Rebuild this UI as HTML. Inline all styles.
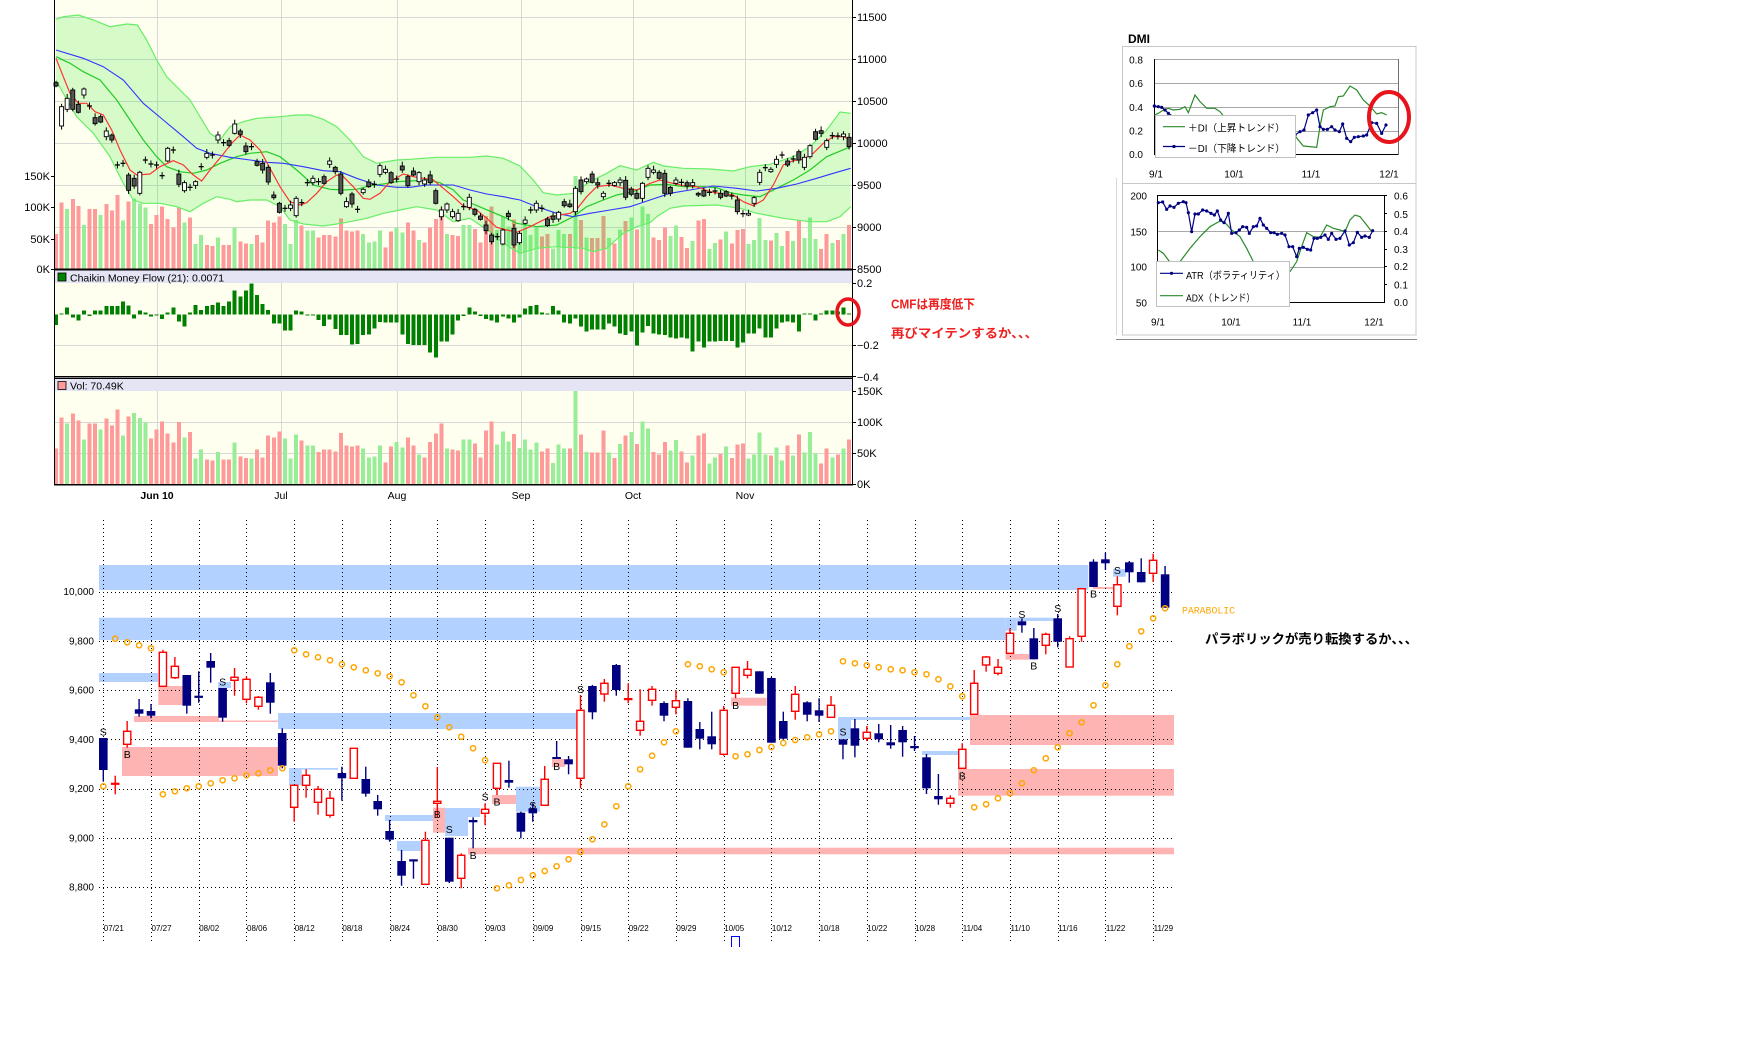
<!DOCTYPE html>
<html><head><meta charset="utf-8"><title>chart</title>
<style>
html,body{margin:0;padding:0;background:#fff;width:1748px;height:1052px;overflow:hidden}
svg{display:block}
text{font-family:"Liberation Sans","Noto Sans CJK JP",sans-serif}
.m{font-family:"Liberation Mono","Noto Sans CJK JP",monospace}
</style></head><body>
<svg id="s" width="1748" height="1052" viewBox="0 0 1748 1052" xmlns="http://www.w3.org/2000/svg">
<rect width="1748" height="1052" fill="#fff"/>
<!-- ============ TOP CHART ============ -->
<rect x="54" y="0" width="798" height="270" fill="#fffff0"/>
<rect x="54" y="270" width="798" height="107" fill="#fffff0"/>
<rect x="54" y="378" width="798" height="106" fill="#fffff0"/>
<g id="tgrid" stroke="#d8d8d8" stroke-width="1" shape-rendering="crispEdges"></g>
<g id="vol1" shape-rendering="crispEdges"></g>
<g id="band"></g>
<g id="tc"></g>
<g id="cmf" shape-rendering="crispEdges"></g>
<g id="vol2" shape-rendering="crispEdges"></g>
<rect x="54" y="270" width="798" height="13" fill="#e4e4f4"/>
<rect x="58" y="273" width="8" height="8" fill="#008000" stroke="#000" stroke-width="0.8"/>
<text x="70" y="281.5" font-size="10.5" fill="#000">Chaikin Money Flow (21): 0.0071</text>
<rect x="54" y="379" width="798" height="12" fill="#e4e4f4"/>
<rect x="58" y="381.5" width="8" height="8" fill="#ff9a9a" stroke="#000" stroke-width="0.8"/>
<text x="70" y="389.5" font-size="10.5" fill="#000">Vol: 70.49K</text>
<g stroke="#000" shape-rendering="crispEdges">
<line x1="54.5" y1="0" x2="54.5" y2="485" stroke-width="1"/>
<line x1="852.5" y1="0" x2="852.5" y2="485" stroke-width="1"/>
<line x1="54" y1="269.5" x2="853" y2="269.5" stroke-width="2"/>
<line x1="54" y1="376.5" x2="853" y2="376.5" stroke-width="1.5"/>
<line x1="54" y1="378.5" x2="853" y2="378.5" stroke-width="1"/>
<line x1="54" y1="484.5" x2="853" y2="484.5" stroke-width="1.5"/>
</g>
<g id="ticks" stroke="#000" stroke-width="1" shape-rendering="crispEdges"></g>
<g font-size="11" fill="#000">
<text x="857" y="21">11500</text>
<text x="857" y="63">11000</text>
<text x="857" y="105">10500</text>
<text x="857" y="147">10000</text>
<text x="857" y="189">9500</text>
<text x="857" y="231">9000</text>
<text x="857" y="273">8500</text>
<text x="857" y="287">0.2</text>
<text x="857" y="349">−0.2</text>
<text x="857" y="381">−0.4</text>
<text x="857" y="395">150K</text>
<text x="857" y="426">100K</text>
<text x="857" y="457">50K</text>
<text x="857" y="488">0K</text>
<text x="50" y="180" text-anchor="end">150K</text>
<text x="50" y="211" text-anchor="end">100K</text>
<text x="50" y="243" text-anchor="end">50K</text>
<text x="50" y="273" text-anchor="end">0K</text>
</g>
<g font-size="10.5" fill="#000" text-anchor="middle">
<text x="157" y="499" font-weight="bold">Jun 10</text>
<text x="281" y="499">Jul</text>
<text x="397" y="499">Aug</text>
<text x="521" y="499">Sep</text>
<text x="633" y="499">Oct</text>
<text x="745" y="499">Nov</text>
</g>
<ellipse cx="848" cy="312" rx="11" ry="13" fill="none" stroke="#e8141c" stroke-width="3.5"/>
<text x="891" y="308.5" font-size="12.5" font-weight="bold" fill="#ee2020" textLength="84" lengthAdjust="spacingAndGlyphs">CMFは再度低下</text>
<text x="891" y="337.5" font-size="12.5" font-weight="bold" fill="#ee2020" textLength="147" lengthAdjust="spacingAndGlyphs">再びマイテンするか、、、</text>

<!-- ============ DMI ============ -->
<rect x="1122.5" y="46.5" width="293.5" height="288.5" fill="#fff" stroke="#c8c8c8" stroke-width="1"/>
<line x1="1122.5" y1="183.5" x2="1416" y2="183.5" stroke="#c8c8c8"/>
<line x1="1116.5" y1="178" x2="1116.5" y2="335" stroke="#d8d8d8"/>
<line x1="1116" y1="339.5" x2="1417" y2="339.5" stroke="#8a8a8a"/>
<text x="1128" y="43" font-size="12" font-weight="bold" fill="#000">DMI</text>
<g stroke="#a8a8a8" shape-rendering="crispEdges">
<line x1="1154" y1="59.5" x2="1399" y2="59.5"/>
<line x1="1154" y1="83.5" x2="1399" y2="83.5"/>
<line x1="1154" y1="107.5" x2="1399" y2="107.5"/>
<line x1="1154" y1="131.5" x2="1399" y2="131.5"/>
<line x1="1157" y1="231.5" x2="1384" y2="231.5"/>
<line x1="1157" y1="267.5" x2="1384" y2="267.5"/>
</g>
<g stroke="#000" shape-rendering="crispEdges">
<line x1="1154.5" y1="59" x2="1154.5" y2="155"/>
<line x1="1154" y1="154.5" x2="1399" y2="154.5"/>
<line x1="1398.5" y1="59" x2="1398.5" y2="155" stroke="#707070"/>
<line x1="1157.5" y1="195" x2="1157.5" y2="303"/>
<line x1="1157" y1="195.5" x2="1384" y2="195.5"/>
<line x1="1157" y1="302.5" x2="1385" y2="302.5"/>
<line x1="1384.5" y1="195" x2="1384.5" y2="303"/>
<line x1="1384" y1="195.5" x2="1387" y2="195.5"/>
<line x1="1384" y1="213.5" x2="1387" y2="213.5"/>
<line x1="1384" y1="231.5" x2="1387" y2="231.5"/>
<line x1="1384" y1="249.5" x2="1387" y2="249.5"/>
<line x1="1384" y1="266.5" x2="1387" y2="266.5"/>
<line x1="1384" y1="284.5" x2="1387" y2="284.5"/>
</g>
<g transform="translate(1100,0) scale(0.333333)">
<polyline id="pdi" fill="none" stroke="#2b8a2b" stroke-width="3.6" points="163,345 175,340 190,330 205,325 220,330 240,328 255,320 265,338 285,285 300,305 320,325 345,325 360,335 380,360 420,380 480,390 540,385 575,395 595,420 610,438 650,442 660,380 670,330 690,320 705,318 715,290 730,288 750,258 770,270 790,300 810,318 830,342 845,338 860,345"/>
<polyline id="mdi" fill="none" stroke="#000080" stroke-width="3.6" points="163,318 175,320 185,322 195,330 205,340 220,350 300,370 400,390 500,400 560,405 585,405 600,395 612,390 625,345 638,338 650,330 660,380 670,388 682,388 695,380 705,390 718,395 728,372 740,415 752,425 763,412 775,410 790,408 800,405 815,368 830,370 845,400 858,375"/>
<polyline id="adx" fill="none" stroke="#2b8a2b" stroke-width="3.6" points="175,750 190,760 205,780 220,800 240,785 270,745 300,710 330,680 360,663 375,668 395,690 420,710 440,745 460,785 500,820 540,830 570,815 590,785 605,740 620,698 640,710 660,712 680,675 700,685 720,690 735,695 750,660 765,645 780,650 800,675 815,695"/>
<polyline id="atr" fill="none" stroke="#000080" stroke-width="3.6" points="175,608 188,606 200,628 210,618 222,622 235,610 250,605 258,608 265,638 275,695 285,642 295,642 308,630 320,633 333,640 343,645 352,633 362,660 372,668 385,640 395,700 408,698 418,690 428,680 440,682 448,700 460,680 470,678 480,655 490,675 500,685 512,698 522,698 532,703 545,700 555,705 567,740 578,740 590,770 598,745 610,742 622,748 632,750 642,715 652,715 662,712 675,705 685,718 695,700 708,718 720,715 735,693 748,735 760,728 772,697 785,712 795,708 808,712 818,692"/>
<g id="ddots" fill="#000080"></g>
</g>
<rect x="1155.5" y="115.5" width="140" height="42" fill="#fff" stroke="#c0c0c0"/>
<line x1="1163" y1="126.7" x2="1185" y2="126.7" stroke="#2b8a2b" stroke-width="1.2"/>
<line x1="1163" y1="146.5" x2="1185" y2="146.5" stroke="#000080" stroke-width="1.2"/>
<circle cx="1174" cy="146.5" r="1.6" fill="#000080"/>
<text x="1188" y="131.5" font-size="10" fill="#000" textLength="97" lengthAdjust="spacingAndGlyphs">＋DI（上昇トレンド）</text>
<text x="1188" y="152" font-size="10" fill="#000" textLength="97" lengthAdjust="spacingAndGlyphs">－DI（下降トレンド）</text>
<rect x="1156.5" y="261.5" width="133" height="45" fill="#fff" stroke="#c0c0c0"/>
<line x1="1160" y1="273.3" x2="1183" y2="273.3" stroke="#000080" stroke-width="1.2"/>
<circle cx="1171.5" cy="273.3" r="1.6" fill="#000080"/>
<line x1="1160" y1="295.7" x2="1183" y2="295.7" stroke="#2b8a2b" stroke-width="1.2"/>
<text x="1186" y="279" font-size="10" fill="#000" textLength="99" lengthAdjust="spacingAndGlyphs">ATR（ボラティリティ）</text>
<text x="1186" y="301.5" font-size="10" fill="#000" textLength="69" lengthAdjust="spacingAndGlyphs">ADX（トレンド）</text>
<g font-size="10" fill="#000" text-anchor="end">
<text x="1143" y="63.5">0.8</text>
<text x="1143" y="87">0.6</text>
<text x="1143" y="111">0.4</text>
<text x="1143" y="134.5">0.2</text>
<text x="1143" y="158">0.0</text>
<text x="1147" y="199.5">200</text>
<text x="1147" y="235.5">150</text>
<text x="1147" y="270.5">100</text>
<text x="1147" y="306.5">50</text>
</g>
<g font-size="10" fill="#000">
<text x="1394" y="199.5">0.6</text>
<text x="1394" y="217.8">0.5</text>
<text x="1394" y="235.2">0.4</text>
<text x="1394" y="252.8">0.3</text>
<text x="1394" y="270.2">0.2</text>
<text x="1394" y="288.5">0.1</text>
<text x="1394" y="306.2">0.0</text>
</g>
<g font-size="10" fill="#000" text-anchor="middle">
<text x="1156" y="177.5">9/1</text>
<text x="1234" y="177.5">10/1</text>
<text x="1311" y="177.5">11/1</text>
<text x="1389" y="177.5">12/1</text>
<text x="1158" y="325.5">9/1</text>
<text x="1231" y="325.5">10/1</text>
<text x="1302" y="325.5">11/1</text>
<text x="1374" y="325.5">12/1</text>
</g>
<ellipse cx="1389" cy="117" rx="20" ry="25" fill="none" stroke="#e8141c" stroke-width="4"/>

<!-- ============ BOTTOM CHART ============ -->
<g fill="#b3d1ff">
<rect x="99" y="565" width="989.3" height="25"/>
<rect x="99" y="617.7" width="906.7" height="22.3"/>
<rect x="1005.7" y="617.7" width="11" height="13"/>
<rect x="1016.7" y="617.7" width="36.6" height="3.3"/>
<rect x="99" y="673" width="59.3" height="9"/>
<rect x="218" y="682" width="13" height="6"/>
<rect x="278" y="713" width="298" height="16"/>
<rect x="289" y="768" width="12.7" height="17"/>
<rect x="301.7" y="768" width="36.3" height="1.7"/>
<rect x="385" y="815" width="48" height="6"/>
<rect x="397" y="841" width="24.7" height="10"/>
<rect x="445" y="808" width="23" height="28"/>
<rect x="468" y="808" width="12" height="9"/>
<rect x="516" y="786.7" width="24" height="25"/>
<rect x="838" y="717" width="13" height="22"/>
<rect x="851" y="717" width="119" height="3"/>
<rect x="922" y="751" width="36" height="4"/>
<rect x="1113" y="569" width="12.7" height="7.7"/>
</g>
<g fill="#ffb4b4">
<rect x="158.3" y="686" width="24.4" height="19"/>
<rect x="134" y="716" width="85" height="6"/>
<rect x="219" y="720.5" width="59" height="1.5"/>
<rect x="122" y="747" width="156" height="29"/>
<rect x="433" y="807.7" width="12" height="25"/>
<rect x="468" y="847.7" width="706" height="6.6"/>
<rect x="492" y="795" width="24" height="9"/>
<rect x="552" y="759" width="13" height="8"/>
<rect x="731" y="697.7" width="35.7" height="8"/>
<rect x="970" y="715" width="204" height="30"/>
<rect x="958" y="769" width="216" height="26.7"/>
<rect x="1005.7" y="654" width="23.3" height="5.7"/>
<rect x="1093" y="587" width="23.7" height="2"/>
</g>
<g id="bgrid" stroke="#000" stroke-width="1" stroke-dasharray="1 3" shape-rendering="crispEdges"></g>
<g id="bc"></g>
<g id="pd" fill="none" stroke="#ffa500" stroke-width="1.5"></g>
<path d="M731.5,947 V936.5 H739.5 V947" fill="none" stroke="#0000ff" stroke-width="1"/>
<g font-size="10.5" fill="#000" text-anchor="middle" class="m">
<text x="103.3" y="735.5">S</text>
<text x="127.2" y="758">B</text>
<text x="222.6" y="685.5">S</text>
<text x="437.3" y="818">B</text>
<text x="449.3" y="833">S</text>
<text x="473.1" y="859">B</text>
<text x="485.1" y="800.5">S</text>
<text x="497.0" y="805.5">B</text>
<text x="532.8" y="809">S</text>
<text x="556.6" y="770">B</text>
<text x="580.5" y="693">S</text>
<text x="735.6" y="709">B</text>
<text x="843.0" y="735.5">S</text>
<text x="962.3" y="779.5">B</text>
<text x="1021.9" y="618">S</text>
<text x="1033.8" y="669.5">B</text>
<text x="1057.7" y="612">S</text>
<text x="1093.5" y="597.5">B</text>
<text x="1117.4" y="574">S</text>
</g>
<g font-size="10" fill="#000" text-anchor="end" class="m">
<text x="94" y="595.2">10,000</text>
<text x="94" y="644.5">9,800</text>
<text x="94" y="693.7">9,600</text>
<text x="94" y="742.9">9,400</text>
<text x="94" y="792.1">9,200</text>
<text x="94" y="841.3">9,000</text>
<text x="94" y="890.5">8,800</text>
</g>
<g font-size="8" fill="#000" class="m">
<text x="103.8" y="931">07/21</text>
<text x="151.5" y="931">07/27</text>
<text x="199.2" y="931">08/02</text>
<text x="247.0" y="931">08/06</text>
<text x="294.7" y="931">08/12</text>
<text x="342.4" y="931">08/18</text>
<text x="390.1" y="931">08/24</text>
<text x="437.8" y="931">08/30</text>
<text x="485.6" y="931">09/03</text>
<text x="533.3" y="931">09/09</text>
<text x="581.0" y="931">09/15</text>
<text x="628.7" y="931">09/22</text>
<text x="676.4" y="931">09/29</text>
<text x="724.2" y="931">10/05</text>
<text x="771.9" y="931">10/12</text>
<text x="819.6" y="931">10/18</text>
<text x="867.3" y="931">10/22</text>
<text x="915.0" y="931">10/28</text>
<text x="962.8" y="931">11/04</text>
<text x="1010.5" y="931">11/10</text>
<text x="1058.2" y="931">11/16</text>
<text x="1105.9" y="931">11/22</text>
<text x="1153.6" y="931">11/29</text>
</g>
<text x="1182" y="613.5" font-size="10" fill="#ffa500" class="m" textLength="53" lengthAdjust="spacingAndGlyphs">PARABOLIC</text>
<text x="1205" y="643.5" font-size="13" font-weight="bold" fill="#000" textLength="213" lengthAdjust="spacingAndGlyphs">パラボリックが売り転換するか、、、</text>
</svg>
<script>
(function(){
var NS='http://www.w3.org/2000/svg';
var G={};
function E(p,t,a){var g=G[p]||(G[p]=document.getElementById(p));var e=document.createElementNS(NS,t);for(var k in a)e.setAttribute(k,a[k]);g.appendChild(e);return e;}
function R(a,o){return a.map(function(p){return [o+p[0]/3,p[1]/3];});}
function S(pts){return pts.map(function(p){return p[0].toFixed(1)+','+p[1].toFixed(1);}).join(' ');}
var i,j;
// top grid
[17.5,59.5,101.5,143.5,185.5,227.5,345.5,422.5,453.5].forEach(function(y){E('tgrid','line',{x1:55,x2:852,y1:y,y2:y});});
[157.5,281.5,397.5,521.5,633.5,745.5].forEach(function(x){E('tgrid','line',{x1:x,x2:x,y1:0,y2:269});E('tgrid','line',{x1:x,x2:x,y1:283,y2:376});E('tgrid','line',{x1:x,x2:x,y1:391,y2:484});});
// ticks
[17.5,59.5,101.5,143.5,185.5,227.5,269.5,283.5,345.5,376.5,391.5,422.5,453.5,484.5].forEach(function(y){E('ticks','line',{x1:852,x2:856,y1:y,y2:y});});
[176.5,207.5,239.5,269.5].forEach(function(y){E('ticks','line',{x1:51,x2:54,y1:y,y2:y});});
// volume
var V="r702 r608 g627 r597 r618 g675 r627 r627 g645 r612 r632 r585 g662 r605 g595 g610 g623 r672 r645 r620 r657 r683 r622 g668 r652 g732 g705 r735 r738 g712 r735 r735 g683 r725 r730 g732 r705 r728 r662 r668 r650 g672 g732 g660 r677 g692 g692 r712 r705 r705 r710 r655 r692 r695 r692 g702 g728 g725 g692 r743 r695 g682 g698 r668 r692 g720 r728 r682 r657 r627 g702 r705 r708 g675 g675 r687 r728 r648 r620 g690 g650 g680 r658 g700 g675 g705 g683 r710 r702 g745 g690 g702 r702 g528 r660 g712 r714 r714 r648 g714 r730 g688 r663 g652 r688 g620 g642 r712 r720 r682 g708 g676 r711 r744 g723 r662 r657 g747 g729 r718 g695 r730 r690 r687 g732 g720 g654 g720 r722 g699 g738 r693 g723 r660 g714 g652 g717 r747 r702 g729 r720 g702 r675".split(' ');
function cx(i){return 56+i*5.585;}
V.forEach(function(s,i){var c=s[0]=='r'?'#ff9a9a':'#98ee98';var t=+s.slice(1)/3;var x=cx(i)-2;
E('vol1','rect',{x:x.toFixed(1),y:t.toFixed(1),width:4,height:(269.3-t).toFixed(1),fill:c});
var t2=Math.max(t+214.7,391);E('vol2','rect',{x:x.toFixed(1),y:t2.toFixed(1),width:4,height:(484-t2).toFixed(1),fill:c});});
// bands
var UP=R([[18,58],[40,50],[85,45],[130,60],[180,80],[230,72],[262,75],[290,120],[320,180],[350,230],[390,270],[420,300],[450,350],[480,400],[510,420],[540,380],[580,365],[620,355],[690,350],[740,345],[780,345],[820,358],[860,380],[900,420],[940,470],[980,490],[1040,480],[1080,478],[1120,475],[1160,472]],50).concat(R([[60,472],[110,468],[160,475],[210,498],[250,540],[280,578],[320,585],[370,580],[420,545],[470,520],[510,497],[560,510],[610,487],[640,498],[700,505],[780,507],[850,513],[900,500],[960,493],[1030,470],[1080,440],[1130,390],[1170,336],[1202,340]],450));
var LO=R([[18,240],[40,280],[80,350],[130,400],[180,470],[220,550],[250,600],[280,610],[330,610],[380,620],[420,635],[460,610],[500,590],[540,598],[560,605],[600,600],[650,600],[690,620],[720,660],[760,672],[820,678],[860,672],[900,665],[950,655],[1000,640],[1050,630],[1100,620],[1160,630]],50).concat(R([[10,665],[60,655],[120,695],[160,730],[210,760],[260,745],[320,740],[400,745],[430,755],[470,745],[520,700],[560,680],[600,668],[620,650],[660,625],[700,618],[800,615],[870,625],[920,640],[1000,655],[1080,665],[1130,665],[1170,650],[1202,620]],450));
var MID=R([[18,170],[60,190],[100,215],[150,240],[200,300],[240,360],[280,420],[320,470],[350,500],[390,515],[430,520],[470,510],[510,490],[560,470],[600,460],[650,455],[690,470],[740,510],[790,555],[840,568],[880,570],[920,568],[960,557],[1000,552],[1040,545],[1080,543],[1130,540],[1170,548]],50).concat(R([[10,570],[40,600],[100,625],[160,650],[200,670],[260,680],[320,675],[370,650],[410,620],[460,600],[500,585],[550,575],[600,555],[650,553],[700,560],[760,560],[800,563],[840,578],[880,585],[930,590],[980,565],[1030,540],[1080,510],[1130,470],[1202,440]],450));
var BL=R([[18,150],[100,175],[160,200],[220,240],[280,310],[340,360],[400,410],[440,445],[480,460],[540,472],[600,480],[650,487],[700,490],[760,500],[820,512],[870,515],[920,535],[980,555],[1040,562],[1080,562],[1130,555],[1170,555]],50).concat(R([[10,555],[60,570],[110,582],[160,590],[210,600],[260,620],[320,640],[370,650],[420,640],[480,630],[540,620],[600,600],[660,580],[720,570],[790,558],[860,565],[920,573],[980,565],[1040,552],[1100,535],[1150,520],[1202,505]],450));
var RD=R([[18,175],[40,230],[60,280],[85,310],[110,310],[135,335],[160,345],[185,390],[210,450],[240,510],[260,525],[300,522],[330,500],[370,482],[400,495],[430,525],[455,543],[480,510],[520,462],[545,430],[570,405],[600,420],[630,450],[660,505],[690,560],[720,605],[750,615],[770,608],[800,580],[830,545],[860,525],[880,530],[910,560],[940,595],[960,598],[990,580],[1020,545],[1060,522],[1090,530],[1120,535],[1150,540],[1180,565]],50).concat(R([[10,590],[40,618],[80,630],[110,655],[140,682],[170,690],[200,697],[240,680],[270,665],[300,650],[330,645],[360,640],[380,628],[410,590],[440,560],[480,555],[520,565],[560,570],[600,550],[630,540],[660,548],[700,557],[740,560],[780,575],[820,582],[850,585],[880,605],[910,617],[940,600],[970,555],[1000,495],[1030,482],[1060,478],[1090,460],[1120,430],[1150,410],[1180,410],[1202,420]],450));
E('band','polygon',{points:S(UP.concat(LO.slice().reverse())),fill:'rgba(0,230,0,0.16)',stroke:'none'});
E('band','polyline',{points:S(UP),fill:'none',stroke:'#66ee66','stroke-width':1.2});
E('band','polyline',{points:S(LO),fill:'none',stroke:'#66ee66','stroke-width':1.2});
E('band','polyline',{points:S(MID),fill:'none',stroke:'#22cc22','stroke-width':1.2});
E('band','polyline',{points:S(BL),fill:'none',stroke:'#3333ff','stroke-width':1.1});
E('band','polyline',{points:S(RD),fill:'none',stroke:'#ff3333','stroke-width':1.2});
// top candles
var TC=[['d',248,258],['w',320,378],['w',295,328],['d',270,328],['d',313,337],['w',267,285],['c',318],['d',353,371],['d',350,366],['w',393,410],
['d',405,420],['c',495],['c',490],['d',525,571],['d',535,558],['w',517,580],['c',480],['c',492],['c',495],['c',527],
['w',445,483],['c',450],['d',522,553],['w',548,572],['c',562],['w',545,556],['c',500],['w',460,472],['c',465],['w',405,420],
['c',428],['d',422,436],['w',372,400],['d',393,403],['d',438,455],['c',440],['d',485,496],['d',490,510],['d',502,546],['d',585,593],
['d',610,637],['c',625],['w',615,625],['w',595,647],['c',608],['c',548],['w',535,548],['c',545],['d',530,550],['w',483,493],
['d',502,515],['d',522,580],['w',605,620],['d',582,612],['c',628],['w',568,578],['d',546,560],['c',553],['w',497,523],['w',508,517],
['d',518,548],['c',537],['d',498,510],['d',530,557],['d',513,525],['w',518,545],['w',540,552],['d',525,548],['d',572,610],['w',630,650],
['w',612,630],
['w',635,650],['w',640,662],['c',620],['w',592,622],['d',628,643],['d',648,658],['d',675,692],['d',705,725],['c',710],
['w',690,732],['d',640,650],['d',685,735],['w',700,728],['w',660,670],['c',630],['w',610,630],['c',625],['d',657,677],['d',648,658],
['w',637,657],['d',605,617],['d',612,620],['w',565,635],['d',540,575],['w',537,545],['d',522,547],['d',548,555],['w',580,590],['c',550],
['w',548,556],['w',540,548],['d',541,592],['d',567,583],['d',580,595],['w',550,595],['w',505,532],['w',510,517],['d',517,535],['d',520,580],
['d',562,580],['w',540,550],['c',547],['d',548,558],['w',548,557],['d',580,585],['d',572,588],['c',577],['c',573],['d',580,592],
['d',575,588],['c',588],['d',600,635],['c',641],['w',640,645],['w',593,610],['w',517,547],['c',503],['w',508,515],['w',478,493],
['c',465],['d',483,495],['c',477],['d',455,480],['w',472,502],['w',437,470],['d',395,418],['d',392,400],['w',422,442],['c',407],
['c',408],['w',402,410],['d',412,440]];
TC.forEach(function(c,i){var x=cx(i);var t=c[1]/3;var b=(c[2]!==undefined?c[2]:c[1])/3;
var ue=1.5+((i*7)%5)*0.7, le=1.2+((i*3)%4)*0.8;
if(c[0]=='c'){E('tc','line',{x1:x,x2:x,y1:t-3.5,y2:t+3.5,stroke:'#000','stroke-width':1});E('tc','line',{x1:x-2.5,x2:x+2.5,y1:t,y2:t,stroke:'#000','stroke-width':1.3});}
else{E('tc','line',{x1:x,x2:x,y1:t-ue,y2:b+le,stroke:'#000','stroke-width':1});
E('tc','rect',{x:(x-2).toFixed(2),y:t.toFixed(2),width:4,height:Math.max(b-t,1).toFixed(2),fill:c[0]=='d'?'#555':'#fff',stroke:'#000','stroke-width':0.9});}
});
// CMF
var CM=[975,940,922,952,962,932,948,932,932,918,918,918,905,916,955,932,937,950,945,957,938,922,965,980,937,915,930,918,915,908,918,905,872,890,872,850,885,912,930,970,970,992,992,932,935,943,945,960,978,958,987,1005,1005,1033,1032,1005,1003,985,966,968,968,968,1003,1032,1035,1035,1035,1058,1072,1025,1025,1003,962,948,922,935,948,957,962,968,950,955,968,952,925,918,915,938,940,918,932,968,970,955,980,995,988,988,988,970,980,1000,1005,995,1036,998,978,1000,1003,1005,1013,1015,1013,1015,1055,1025,1042,1025,1025,1023,1023,1023,1042,1027,1000,1000,985,1012,1012,985,968,965,968,995,940,940,962,940,932,932,935,923,941];
CM.forEach(function(zy,i){var y=zy/3,z=314.3;var a=Math.min(y,z),b=Math.max(y,z);E('cmf','rect',{x:(cx(i)-2).toFixed(1),y:a.toFixed(1),width:4,height:Math.max(b-a,1).toFixed(1),fill:'#008000'});});
// DMI dots
['mdi','atr'].forEach(function(id){var p=document.getElementById(id).getAttribute('points').split(' ');p.forEach(function(q){var v=q.split(',');E('ddots','circle',{cx:v[0],cy:v[1],r:4.8});});});
// bottom grid
for(j=0;j<7;j++){var y=Math.round(591.7+49.22*j)+0.5;E('bgrid','line',{x1:99,x2:1175,y1:y,y2:y});}
for(j=0;j<23;j++){var x=Math.round(103.3+47.72*j)+0.5;E('bgrid','line',{x1:x,x2:x,y1:520,y2:944});}
// bottom candles
var BC=[[0,'n',738,770,738,781.7],[1,'d',783.7,783.7,775.7,794.3],[2,'r',731.3,744.3,721,747.7],[3,'n',709.3,713.7,699,716.7],[4,'n',711,715.7,704,718.3],[5,'r',652.3,686.3,650,686.3],[6,'r',666.3,677.7,657,679],[7,'n',675,705.7,675,713.7],[8,'nd',696.7,696.7,671.3,702.7],[9,'n',661,667.7,653,682.7],
[10,'n',688,717.7,688,721.7],[11,'r',677.3,680.3,668,695.7],[12,'r',679.3,699.3,676,703.3],[13,'r',697.3,706.3,696,709.7],[14,'n',682.3,702.7,673,713.7],[15,'n',733,765.7,728.3,768.3],[16,'r',785.3,807.3,785.3,821.7],[17,'r',775.3,785.3,769.3,797.7],[18,'r',789.3,802.3,786,814.7],[19,'r',798.3,815.3,791,817.7],
[20,'n',773,778.3,766.7,800.7],[21,'r',748.3,778.3,748.3,778.3],[22,'n',779,793.7,766.7,796.7],[23,'n',801,809.3,795,815.7],[24,'n',831,839.7,820,841.7],[25,'n',861,875.7,850,885.7],[26,'nd',860.3,860.3,859.3,878.7],[27,'r',840.3,884.3,831.7,884.3],[28,'r',801.3,803.3,767,816.7],[29,'n',837.7,881.7,837.7,883],
[30,'r',855.3,878.3,853.3,888.3],[31,'n',820,822.3,817.3,848.3],[32,'r',809.3,813.3,803.3,825.3],[33,'r',763.3,788.3,763.3,795],[34,'n',780,782.7,760.7,787.7],[35,'n',812.7,831.7,811.7,838.3],[36,'n',808.3,813.3,803.3,821.7],[37,'r',779.3,805.3,766,805.3],[38,'n',757,759,741,759],[39,'n',759.3,764.3,756,774.3],
[40,'r',710.3,778.3,695,788.3],[41,'n',686,712.3,685,719.3],[42,'r',683.3,694,679,701.7],[43,'n',665,690,664,695.7],[44,'d',699,699,683.3,703.3],[45,'r',721.3,730.3,689.3,735.7],[46,'r',689.3,700.3,686,705.7],[47,'n',703,715.7,701.3,721.3],[48,'r',700.7,707.3,690,714.3],[49,'n',701,747.7,698.3,747.7],
[50,'n',729,738.7,722,749.3],[51,'n',736.3,744.3,711.7,749.3],[52,'r',710.3,754.3,706,755.7],[53,'r',667.3,693.3,667.3,698.3],[54,'r',669.3,675.3,661,678.3],[55,'n',671.3,693.7,671.3,693.7],[56,'n',678,742.7,677,742.7],[57,'n',721,738.7,711.7,740],[58,'r',694.3,711.3,686,719.7],[59,'n',702.3,714.7,701.3,721.3],
[60,'n',710.3,715.7,698.3,722],[61,'r',705.3,717.3,696,717.3],[62,'n',739.3,744.7,739.3,759.3],[63,'n',728.3,745.7,719,757.3],[64,'r',732.3,738.3,726,741],[65,'n',733.3,739.3,724,742.3],[66,'n',742.3,745.3,725,748.7],[67,'n',730,742.3,726,756.7],[68,'nd',747,747,736,751],[69,'n',757.3,788.3,754,794],
[70,'n',796,799.3,774,804.7],[71,'r',798.3,803.3,795.3,807.7],[72,'r',749.3,768.3,743.3,768.3],[73,'r',683.3,714.3,670,714.3],[74,'r',657,665,656,671.7],[75,'r',667.3,673.3,659,675.3],[76,'r',633.3,653.3,628.3,653.3],[77,'n',621.3,625.3,618.3,632.7],[78,'n',638.3,659.3,628,659.3],[79,'r',634.3,645.3,632.7,654.3],
[80,'n',618.3,641.7,614,647.3],[81,'r',638.7,667,636.3,667],[82,'r',588.7,636.3,588.7,641.7],[83,'n',561.7,587,559.3,587],[84,'n',559.3,563.3,552.7,570],[85,'r',584.7,606.3,576.3,615.3],[86,'n',562.3,572.3,561,582.7],[87,'n',572,582.3,558.3,582.3],[88,'r',560.3,573.3,553.7,582],[89,'n',574.3,607.7,566,607.7]];
BC.forEach(function(c){var k=c[0],t=c[1],bt=c[2],bb=c[3],wt=c[4],wb=c[5];var x=103.3+11.93*k;
if(t=='n'){E('bc','line',{x1:x,x2:x,y1:wt,y2:wb,stroke:'#000080','stroke-width':1.4});E('bc','rect',{x:(x-4.3).toFixed(1),y:bt,width:8.6,height:Math.max(bb-bt,2).toFixed(1),fill:'#000080'});}
else if(t=='nd'){E('bc','line',{x1:x,x2:x,y1:wt,y2:wb,stroke:'#000080','stroke-width':1.4});E('bc','rect',{x:(x-4.3).toFixed(1),y:bt-1,width:8.6,height:2.2,fill:'#000080'});}
else if(t=='d'){E('bc','line',{x1:x,x2:x,y1:wt,y2:wb,stroke:'#ff0000','stroke-width':1.4});E('bc','rect',{x:(x-4.3).toFixed(1),y:bt-1,width:8.6,height:2.2,fill:'#ff0000'});}
else{E('bc','line',{x1:x,x2:x,y1:wt,y2:wb,stroke:'#ff0000','stroke-width':1.4});E('bc','rect',{x:(x-3.6).toFixed(1),y:bt,width:7.2,height:Math.max(bb-bt,1.5).toFixed(1),fill:'#fff',stroke:'#ff0000','stroke-width':1.4});}
});
// parabolic dots
var PD=[786.3,638.7,642.3,645.3,648.3,794.3,791.3,788.3,786.3,783.3,780.3,778.3,775.3,773.3,770.3,768.3,650.3,654.3,657.3,660.3,664.3,667.3,670.3,673.3,676.3,682.3,695.3,706.3,717.3,727.3,736.7,748.3,760.3,888.3,885.3,880,875.3,871,866.3,859.3,852,839.3,824.3,806.3,786.3,769.3,755.7,742.3,731.3,664.3,666.3,669.3,672.3,756.3,754.3,750,747,743,740,737.3,734.3,731.3,661.3,663.3,665.3,667.3,669.3,670.3,672.3,674.3,679.3,686.3,696.3,807.3,804.3,798.3,793.3,783.3,770.3,758.3,747.3,733.3,722.3,705.3,685.3,664.3,646.3,631.3,618.3,608.3];
PD.forEach(function(y,k){E('pd','circle',{cx:(103.3+11.93*k).toFixed(1),cy:y,r:2.6});});
})();
</script>
</body></html>
